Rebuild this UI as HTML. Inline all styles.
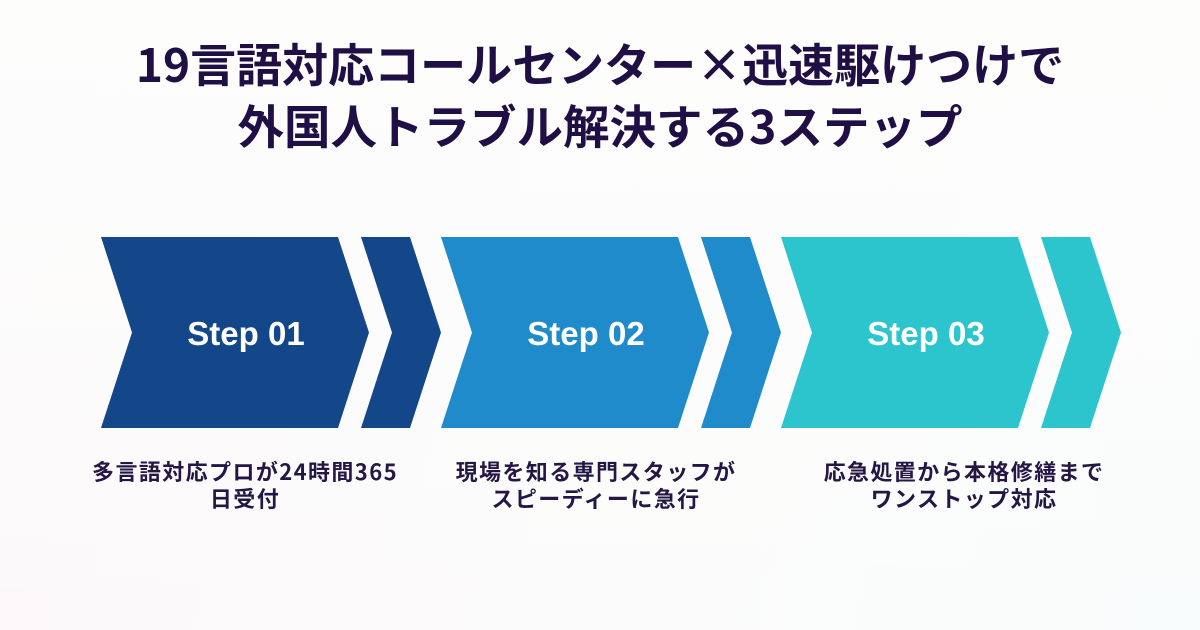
<!DOCTYPE html>
<html><head><meta charset="utf-8">
<style>
html,body{margin:0;padding:0;}
body{width:1200px;height:630px;overflow:hidden;background:linear-gradient(100deg,#fcf8fa 0%,#fcfbfb 50%,#f9fcfc 100%);position:relative;font-family:"Liberation Sans","Noto Sans CJK JP",sans-serif;}
.bgtop{position:absolute;left:0;top:0;width:1200px;height:630px;background:linear-gradient(180deg,rgba(253,253,252,1) 0%,rgba(253,253,252,0.6) 50%,rgba(253,253,252,0) 100%);}
svg{position:absolute;left:0;top:0;}
.title{position:absolute;left:0;width:1200px;text-align:center;color:#1f0f45;font-weight:bold;font-size:46px;font-family:"Noto Sans CJK JP",sans-serif;white-space:nowrap;line-height:1;}
.desc{position:absolute;text-align:center;color:#241746;font-weight:bold;font-size:22px;letter-spacing:1.4px;font-family:"Noto Sans CJK JP",sans-serif;line-height:27px;white-space:nowrap;width:400px;}
</style></head><body>
<div class="bgtop"></div>
<svg width="1200" height="630" viewBox="0 0 1200 630">
  <g fill="#14468a">
    <polygon points="101,237 338,237 369,332.5 338,428 101,428 132,332.5"/>
    <polygon points="361,237 410,237 441,332.5 410,428 361,428 392,332.5"/>
  </g>
  <g fill="#1f8bca">
    <polygon points="441,237 678,237 709,332.5 678,428 441,428 472,332.5"/>
    <polygon points="701,237 750,237 781,332.5 750,428 701,428 732,332.5"/>
  </g>
  <g fill="#2cc5cd">
    <polygon points="781,237 1018,237 1049,332.5 1018,428 781,428 812,332.5"/>
    <polygon points="1041,237 1090,237 1121,332.5 1090,428 1041,428 1072,332.5"/>
  </g>
  <g fill="#ffffff" font-family="Liberation Sans, sans-serif" font-weight="bold" font-size="33" text-anchor="middle">
    <text x="246" y="345">Step 01</text>
    <text x="586" y="345">Step 02</text>
    <text x="926" y="345">Step 03</text>
  </g>
</svg>
<div class="title" style="top:40px;">19言語対応コールセンター×迅速駆けつけで</div>
<div class="title" style="top:102px;font-size:46.5px;">外国人トラブル解決する3ステップ</div>
<div class="desc" style="left:45px;top:458px;">多言語対応プロが24時間365<br>日受付</div>
<div class="desc" style="left:396px;top:458px;">現場を知る専門スタッフが<br>スピーディーに急行</div>
<div class="desc" style="left:764px;top:458px;">応急処置から本格修繕まで<br>ワンストップ対応</div>
</body></html>
